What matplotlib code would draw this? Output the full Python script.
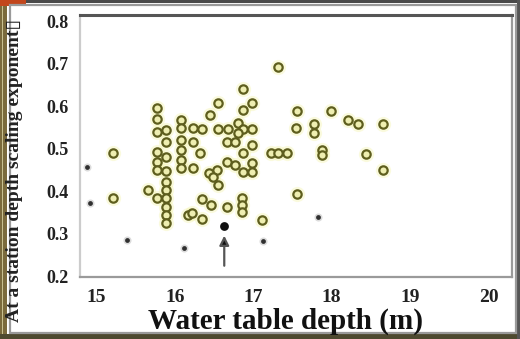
import numpy as np
import matplotlib
matplotlib.use("Agg")
import matplotlib.pyplot as plt
from matplotlib.patches import Rectangle

# open circles (stations)
depth = [15.21, 15.21, 15.66, 15.77,
         15.77, 15.77, 15.77, 15.77, 15.77, 15.77,
         15.89, 15.89, 15.89, 15.89, 15.89, 15.89, 15.89, 15.89, 15.89, 15.89,
         16.08, 16.08, 16.08, 16.08, 16.08, 16.08,
         16.17, 16.23, 16.35, 16.55, 16.68, 16.80, 16.87, 16.99, 16.80,
         16.55, 16.99, 16.87, 16.45, 16.67, 16.77, 16.23, 16.99,
         16.32, 16.87, 17.22, 17.32, 17.43,
         16.67, 16.77, 16.99, 16.23, 16.54, 16.43, 16.87, 16.99,
         16.48, 16.55, 16.34, 16.46, 16.67, 16.22, 16.35,
         16.86, 16.86, 16.86, 17.11, 16.87, 17.32,
         17.56, 17.99, 18.21, 18.34, 18.66, 17.55, 17.77, 17.77,
         17.88, 17.88, 18.44, 18.66, 17.56]
expo = [0.490, 0.384, 0.402, 0.384,
        0.596, 0.570, 0.539, 0.492, 0.468, 0.450,
        0.544, 0.516, 0.480, 0.447, 0.421, 0.402, 0.384, 0.362, 0.344, 0.325,
        0.567, 0.549, 0.520, 0.497, 0.473, 0.454,
        0.344, 0.549, 0.546, 0.546, 0.546, 0.560, 0.546, 0.546, 0.537,
        0.607, 0.607, 0.591, 0.579, 0.516, 0.516, 0.516, 0.508,
        0.490, 0.490, 0.490, 0.490, 0.490,
        0.468, 0.461, 0.466, 0.454, 0.450, 0.443, 0.445, 0.445,
        0.433, 0.414, 0.381, 0.367, 0.362, 0.348, 0.334,
        0.384, 0.367, 0.351, 0.332, 0.640, 0.692,
        0.589, 0.589, 0.567, 0.558, 0.558, 0.549, 0.558, 0.537,
        0.496, 0.486, 0.487, 0.450, 0.393]

# small black dots
dot_depth = [14.88, 14.92, 15.39, 16.12, 17.13, 17.82]
dot_expo = [0.457, 0.372, 0.285, 0.266, 0.282, 0.339]

# highlighted station
sel_depth = [16.63]
sel_expo = [0.318]

xticks = [15, 16, 17, 18, 19, 20]
yticks = [0.2, 0.3, 0.4, 0.5, 0.6, 0.7, 0.8]

W, H = 520, 339
fig = plt.figure(figsize=(W / 100, H / 100), dpi=100)
fig.patch.set_facecolor("white")

# screenshot frame
def px_rect(x0, y0, x1, y1, **kw):
    fig.patches.append(Rectangle((x0 / W, 1 - y1 / H), (x1 - x0) / W, (y1 - y0) / H,
                                 transform=fig.transFigure, figure=fig, **kw))

px_rect(0, 0, W, 3, color="#4a4a4a", lw=0)
px_rect(0, 0, 7, H, color="#7a6a3c", lw=0)
px_rect(2, 0, 3, H, color="#c8c090", lw=0)
px_rect(0, 0, 26, 6, color="#c2461c", lw=0)
px_rect(0, 334, W, H, color="#4e4a30", lw=0)
px_rect(517, 0, W, H, color="#555555", lw=0)
px_rect(10, 5, 516, 333, fill=False, ec="#9a9a9a", lw=1.6)

ax = fig.add_axes([80 / W, 1 - 277 / H, (512 - 80) / W, (277 - 15) / H])
ax.set_facecolor("white")

# yellow glow behind the circles
ax.scatter(depth, expo, s=120, color="#f2f2a0", alpha=0.35, lw=0, zorder=1)
ax.scatter(depth, expo, s=36, facecolor="#eeeeb0", edgecolor="#5e5e1e",
           linewidth=1.6, zorder=3)

ax.scatter(dot_depth, dot_expo, s=34, color="#dcdcdc", lw=0, zorder=2)
ax.scatter(dot_depth, dot_expo, s=12, color="#303030", lw=0, zorder=3)
ax.scatter(sel_depth, sel_expo, s=40, color="#101010", lw=0, zorder=4)

ax.annotate("", xy=(sel_depth[0], 0.302), xytext=(sel_depth[0], 0.218),
            arrowprops=dict(arrowstyle="-|>", color="#555555", lw=1.6,
                            mutation_scale=14, fc="#111111"))

ax.set_xlim(14.79, 20.30)
ax.set_ylim(0.198, 0.815)
ax.set_xticks(xticks)
ax.set_yticks(yticks)
ax.set_xticklabels([str(t) for t in xticks], fontsize=14, fontweight="bold",
                   family="Liberation Serif", color="#222222")
ax.set_yticklabels(["%.1f" % t for t in yticks], fontsize=13, fontweight="bold",
                   family="Liberation Serif", color="#222222")
ax.tick_params(axis="both", length=0)
ax.tick_params(axis="x", pad=9)
ax.tick_params(axis="y", pad=8)

for side in ["left", "bottom", "right"]:
    ax.spines[side].set_color("#9a9a9a")
    ax.spines[side].set_linewidth(1.6)
ax.spines["top"].set_color("#555555")
ax.spines["top"].set_linewidth(2.2)
ax.spines["left"].set_color("#cccccc")

fig.text(286 / W, 1 - 321 / H, "Water table depth (m)", ha="center", va="center",
         fontsize=21, fontweight="bold", family="Liberation Serif", color="#111111")
fig.text(15 / W, 1 - 170 / H, "At a station depth scaling exponent\u25AF", rotation=90,
         ha="center", va="center", fontsize=14, fontweight="bold",
         family=["Liberation Serif", "DejaVu Sans"], color="#222222")

fig.savefig("out.png", dpi=100)
